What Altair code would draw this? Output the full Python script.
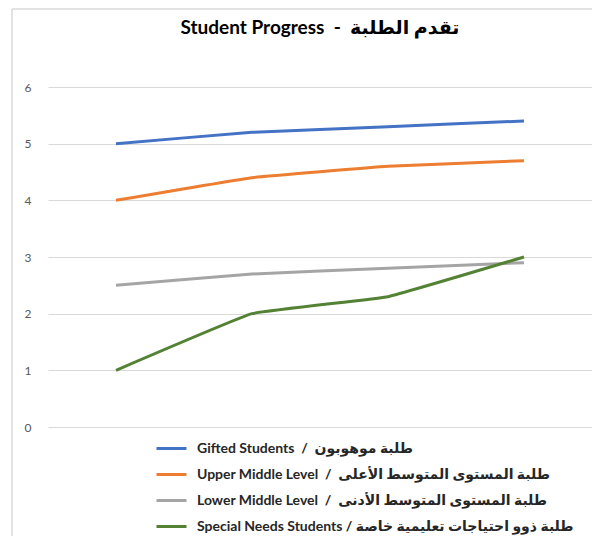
import altair as alt
import pandas as pd

points = ["1", "2", "3", "4"]
series = [
    "Gifted Students \u00a0/ \u00a0طلبة موهوبون",
    "Upper Middle Level \u00a0/ \u00a0طلبة المستوى المتوسط الأعلى",
    "Lower Middle Level \u00a0/ \u00a0طلبة المستوى المتوسط الأدنى",
    "Special Needs Students / طلبة ذوو احتياجات تعليمية خاصة",
]
gifted = [5.0, 5.2, 5.3, 5.4]
upper = [4.0, 4.4, 4.6, 4.7]
lower = [2.5, 2.7, 2.8, 2.9]
special = [1.0, 2.0, 2.3, 3.0]
colors = ["#4472C4", "#ED7D31", "#A5A5A5", "#548235"]
title = "Student Progress \u00a0- \u00a0تقدم الطلبة"

FONT = "Lato, 'DejaVu Sans', sans-serif"

rows = []
for name, vals in zip(series, [gifted, upper, lower, special]):
    for p, v in zip(points, vals):
        rows.append({"point": p, "series": name, "value": v})
df = pd.DataFrame(rows)

lines = alt.Chart(df).mark_line(strokeWidth=3, interpolate="cardinal", tension=0.75).encode(
    x=alt.X("point:O", axis=None, scale=alt.Scale(type="point", padding=0.5)),
    y=alt.Y(
        "value:Q",
        scale=alt.Scale(domain=[0, 6]),
        axis=alt.Axis(
            values=[0, 1, 2, 3, 4, 5, 6],
            title=None,
            domain=False,
            ticks=False,
            labelPadding=17,
            labelFontSize=12,
            labelColor="#595959",
            labelFont="Lato",
            gridColor="#D9D9D9",
            gridWidth=1,
        ),
    ),
    color=alt.Color(
        "series:N",
        sort=series,
        scale=alt.Scale(domain=series, range=colors),
        legend=alt.Legend(
            title=None,
            orient="none",
            legendX=107,
            legendY=345,
            symbolType="stroke",
            symbolSize=900,
            symbolStrokeWidth=3,
            labelFontSize=14,
            labelFontWeight="bold",
            labelFont=FONT,
            labelColor="#262626",
            labelOffset=9,
            padding=0,
            labelLimit=500,
        ),
    ),
)

border_df = pd.DataFrame({"b": [0]})
left_border = alt.Chart(border_df).mark_rule(color="#D9D9D9", strokeWidth=1.5).encode(
    x=alt.value(-36), y=alt.value(-78), y2=alt.value(460)
)
top_border = alt.Chart(border_df).mark_rule(color="#D9D9D9", strokeWidth=1.5).encode(
    x=alt.value(-36), x2=alt.value(544), y=alt.value(-78)
)

chart = (
    alt.layer(lines, left_border, top_border)
    .properties(
        width=544,
        height=340,
        autosize=alt.AutoSizeParams(type="none"),
        padding={"left": 40, "top": 79, "right": 0, "bottom": 109},
        title=alt.TitleParams(
            title,
            font=FONT,
            fontSize=19,
            fontWeight="bold",
            color="#000000",
            anchor="middle",
            frame="group",
            offset=-30,
        ),
    )
    .configure_view(stroke=None)
    .configure_legend(rowPadding=2)
)

chart.save("out.html", embed_options={"renderer": "svg", "actions": False})
